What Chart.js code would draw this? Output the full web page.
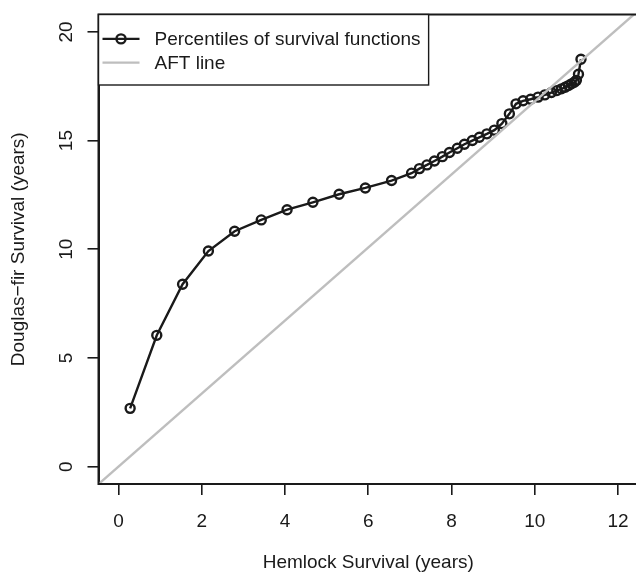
<!DOCTYPE html>
<html>
<head>
<meta charset="utf-8">
<script src="https://cdn.jsdelivr.net/npm/chart.js@4.4.1/dist/chart.umd.min.js"></script>
<style>
  html, body { margin: 0; padding: 0; background: #fff; overflow: hidden; }
  #wrap { width: 640px; height: 575px; }
</style>
</head>
<body>
<div id="wrap"><canvas id="chart" width="640" height="575"></canvas></div>
<script>
// Percentiles of the two survival functions (years)
const hemlock = [0.28, 0.92, 1.54, 2.16, 2.79, 3.43, 4.05, 4.67, 5.30, 5.93,
                 6.56, 7.04, 7.23, 7.41, 7.59, 7.78, 7.95, 8.14, 8.31, 8.50,
                 8.67, 8.85, 9.03, 9.21, 9.39, 9.55, 9.72, 9.90, 10.08, 10.24,
                 10.40, 10.53, 10.64, 10.73, 10.81, 10.88, 10.95, 11.00, 11.05, 11.11];
const douglas = [2.68, 6.04, 8.39, 9.92, 10.83, 11.35, 11.82, 12.16, 12.53, 12.82,
                 13.16, 13.50, 13.71, 13.88, 14.06, 14.26, 14.45, 14.65, 14.83, 15.00,
                 15.15, 15.31, 15.48, 15.78, 16.23, 16.69, 16.83, 16.90, 17.00, 17.10,
                 17.21, 17.30, 17.38, 17.45, 17.53, 17.61, 17.68, 17.77, 18.05, 18.74];
const aftSlope = 1.68;           // AFT line through the origin
const xTicks = [0, 2, 4, 6, 8, 10, 12];
const yTicks = [0, 5, 10, 15, 20];
const xRange = [0, 12];
const yRange = [0, 20];

const INK = '#1a1a1a';
const FONT = '"Liberation Sans", Arial, sans-serif';
const FS = 19;

// R style 4% axis extension
const pad = (r) => { const d = (r[1] - r[0]) * 0.04; return [r[0] - d, r[1] + d]; };
const xLim = pad(xRange), yLim = pad(yRange);

const percentiles = hemlock.map((x, i) => ({ x: x, y: douglas[i] }));
const aftLine = xLim.map(x => ({ x: x, y: aftSlope * x }));

// box round the plot region
const plotBox = {
  id: 'plotBox',
  afterDatasetsDraw(chart) {
    const { ctx, chartArea: a } = chart;
    ctx.save();
    ctx.strokeStyle = INK;
    ctx.lineWidth = 2;
    ctx.strokeRect(a.left, a.top, a.right - a.left, a.bottom - a.top);
    ctx.restore();
  }
};

// R-like legend in the top left corner
const legendBox = {
  id: 'legendBox',
  afterDraw(chart) {
    const { ctx, chartArea: a } = chart;
    const sets = chart.data.datasets;
    ctx.save();
    ctx.font = FS + 'px ' + FONT;
    const textW = Math.max(...sets.map(d => ctx.measureText(d.label).width));
    const x0 = a.left, y0 = a.top;
    const textX = x0 + 56;
    const w = textX - x0 + textW + 8;
    const h = 70.5;
    ctx.fillStyle = '#fff';
    ctx.fillRect(x0, y0, w, h);
    ctx.strokeStyle = INK;
    ctx.lineWidth = 1.4;
    ctx.strokeRect(x0, y0, w, h);
    sets.forEach((d, i) => {
      const y = y0 + 24.4 + i * 23.7;
      ctx.strokeStyle = d.borderColor;
      ctx.lineWidth = d.borderWidth;
      ctx.beginPath();
      ctx.moveTo(x0 + 4, y);
      ctx.lineTo(x0 + 41, y);
      ctx.stroke();
      if (d.pointRadius > 0) {
        ctx.lineWidth = d.pointBorderWidth;
        ctx.beginPath();
        ctx.arc(x0 + 22.5, y, d.pointRadius, 0, Math.PI * 2);
        ctx.stroke();
      }
      ctx.fillStyle = INK;
      ctx.textBaseline = 'middle';
      ctx.fillText(d.label, textX, y + 1);
    });
    ctx.restore();
  }
};

new Chart(document.getElementById('chart'), {
  type: 'scatter',
  data: {
    datasets: [{
      label: 'Percentiles of survival functions',
      data: percentiles,
      showLine: true,
      borderColor: INK,
      borderWidth: 2.4,
      pointRadius: 4.5,
      pointBorderWidth: 2.4,
      pointBorderColor: INK,
      pointBackgroundColor: 'rgba(0,0,0,0)',
      order: 1
    }, {
      label: 'AFT line',
      data: aftLine,
      showLine: true,
      borderColor: '#bebebe',
      borderWidth: 2.4,
      pointRadius: 0,
      order: 0
    }]
  },
  options: {
    responsive: false,
    animation: false,
    devicePixelRatio: 1,
    layout: { autoPadding: false, padding: { top: 14.5, right: 2, left: 0, bottom: 0 } },
    plugins: {
      legend: { display: false },
      tooltip: { enabled: false }
    },
    scales: {
      x: {
        type: 'linear',
        min: xLim[0],
        max: xLim[1],
        afterBuildTicks: s => { s.ticks = xTicks.map(v => ({ value: v })); },
        afterFit: s => { s.height = 91; s.paddingLeft = 0; s.paddingRight = 0; },
        grid: { drawOnChartArea: false, drawTicks: true, tickLength: 11, color: INK, lineWidth: 1.6 },
        border: { display: true, color: INK, width: 2 },
        ticks: { color: INK, font: { family: FONT, size: FS }, padding: 15, maxRotation: 0 },
        title: {
          display: true,
          text: 'Hemlock Survival (years)',
          color: INK,
          font: { family: FONT, size: FS },
          padding: { top: 0, bottom: 1 }
        }
      },
      y: {
        type: 'linear',
        min: yLim[0],
        max: yLim[1],
        afterBuildTicks: s => { s.ticks = yTicks.map(v => ({ value: v })); },
        afterFit: s => { s.width = 98.5; s.paddingTop = 0; s.paddingBottom = 0; },
        grid: { drawOnChartArea: false, drawTicks: true, tickLength: 11, color: INK, lineWidth: 1.6 },
        border: { display: true, color: INK, width: 2 },
        ticks: {
          color: INK,
          font: { family: FONT, size: FS },
          minRotation: 90,
          maxRotation: 90,
          crossAlign: 'center',
          padding: 10
        },
        title: {
          display: true,
          text: 'Douglas\u2212fir Survival (years)',
          color: INK,
          font: { family: FONT, size: FS },
          padding: { top: 7, bottom: 0 }
        }
      }
    }
  },
  plugins: [plotBox, legendBox]
});
</script>
</body>
</html>
